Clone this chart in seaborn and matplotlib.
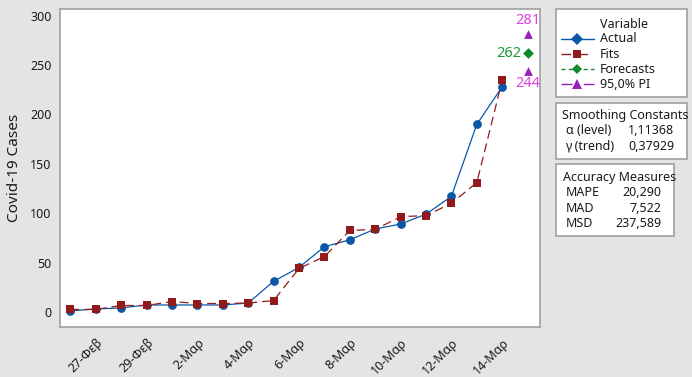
import matplotlib
matplotlib.use("Agg")
import matplotlib.pyplot as plt
from matplotlib.lines import Line2D
from matplotlib.patches import Rectangle
import numpy as np
import pandas as pd
import seaborn as sns

# data
dates = ["26-Φεβ", "27-Φεβ", "28-Φεβ", "29-Φεβ", "1-Μαρ", "2-Μαρ", "3-Μαρ", "4-Μαρ", "5-Μαρ",
         "6-Μαρ", "7-Μαρ", "8-Μαρ", "9-Μαρ", "10-Μαρ", "11-Μαρ", "12-Μαρ", "13-Μαρ", "14-Μαρ"]
actual = [1, 3, 4, 7, 7, 7, 7, 9, 31, 45, 66, 73, 84, 89, 99, 117, 190, 228]
fits = [2.5, 2.5, 6.5, 6.5, 10.5, 8.5, 8.5, 9, 11.5, 44, 56, 82.5, 83.5, 96.5, 97.5, 110, 131, 234.5]
forecast = 262
pi_upper = 281
pi_lower = 244
legend_labels = ["Actual", "Fits", "Forecasts", "95,0% PI"]
smoothing = [("α (level)", "1,11368"), ("γ (trend)", "0,37929")]
accuracy = [("MAPE", "20,290"), ("MAD", "7,522"), ("MSD", "237,589")]

c_actual = "#0A57A8"
c_fits = "#931A1A"
c_fc = "#0E8A2C"
c_pi = "#9622B8"
c_pi_txt = "#E040E0"
c_fc_txt = "#1A9A3A"
grey = "#A0A0A0"
txt = "#1A1A1A"
FS = 9

sns.set_theme(style="white")
plt.rcParams["font.family"] = ["Noto Sans", "DejaVu Sans"]

df = pd.DataFrame({"t": np.arange(len(dates)), "actual": actual, "fits": fits})
fc_x = len(dates)

fig = plt.figure(figsize=(6.92, 3.77), dpi=100, facecolor="#E4E4E4")
ax = fig.add_axes([0.0863, 0.1334, 0.6945, 0.8419])
ax.set_facecolor("white")

sns.lineplot(data=df, x="t", y="actual", ax=ax, color=c_actual, lw=0.9,
             marker="o", markersize=6.3, markeredgewidth=0)
sns.lineplot(data=df, x="t", y="fits", ax=ax, color=c_fits, lw=0.9,
             linestyle=(0, (7, 4)), marker="s", markersize=6.3, markeredgewidth=0)
sns.scatterplot(x=[fc_x], y=[forecast], ax=ax, color=c_fc, marker="D", s=30, linewidth=0)
sns.scatterplot(x=[fc_x, fc_x], y=[pi_upper, pi_lower], ax=ax, color=c_pi, marker="^", s=40, linewidth=0)

ax.text(fc_x, pi_upper + 7, str(pi_upper), color=c_pi_txt, ha="center", va="bottom", fontsize=10.5)
ax.text(fc_x - 0.25, forecast, str(forecast), color=c_fc_txt, ha="right", va="center", fontsize=10.5)
ax.text(fc_x, pi_lower - 5, str(pi_lower), color=c_pi_txt, ha="center", va="top", fontsize=10.5)

ax.set_xlim(-0.42, 18.5)
ax.set_ylim(-15, 306.5)
ax.set_yticks(range(0, 301, 50))
ticks = list(range(1, len(dates), 2))
ax.set_xticks(ticks)
ax.set_xticklabels([dates[i] for i in ticks], rotation=45, ha="right", rotation_mode="anchor")
ax.set_xlabel("")
ax.set_ylabel("Covid-19 Cases", fontsize=11, color=txt, labelpad=6)
ax.tick_params(axis="both", direction="out", length=4, width=1, color=grey,
               labelsize=FS, labelcolor=txt, pad=2)
ax.tick_params(axis="x", pad=3)
for sp in ax.spines.values():
    sp.set_color(grey)
    sp.set_linewidth(1.2)


def px(x, y):
    return x / 692, 1 - y / 377


def frame(x0, y0, x1, y1):
    fig.patches.append(Rectangle(px(x0, y1), (x1 - x0) / 692, (y1 - y0) / 377,
                                 transform=fig.transFigure, facecolor="white",
                                 edgecolor=grey, lw=1.2))


# legend box (Minitab style, drawn by hand)
frame(555.5, 9.5, 686.5, 97)
fig.text(*px(600, 24), "Variable", fontsize=FS, va="center", ha="left", color=txt)
leg_styles = [
    dict(color=c_actual, ls="-", marker="D", ms=6.5),
    dict(color=c_fits, ls=(0, (7, 5)), marker="s", ms=6),
    dict(color=c_fc, ls=(0, (2.9, 2.4)), marker="D", ms=5.5),
    dict(color=c_pi, ls=(0, (8, 8)), marker="^", ms=6.5),
]
for i, (lab, st) in enumerate(zip(legend_labels, leg_styles)):
    yy = 38.8 + 15.2 * i
    xs, ys = zip(px(561, yy), px(577, yy), px(594, yy))
    fig.add_artist(Line2D(xs, ys, transform=fig.transFigure, lw=1, markevery=[1],
                          markeredgewidth=0, **st))
    fig.text(*px(600, yy), lab, fontsize=FS, va="center", ha="left", color=txt)


def info_box(x0, y0, x1, y1, title, rows, tx, vx, ty, dy):
    frame(x0, y0, x1, y1)
    fig.text(*px(tx, ty), title, fontsize=FS, va="center", ha="left", color=txt)
    for i, (k, v) in enumerate(rows):
        yy = ty + dy * (i + 1)
        fig.text(*px(tx + 3, yy), k, fontsize=FS, va="center", ha="left", color=txt)
        fig.text(*px(vx, yy), v, fontsize=FS, va="center", ha="right", color=txt)


info_box(555.5, 102.5, 686.5, 159, "Smoothing Constants", smoothing, 562.5, 674.5, 115.5, 15.5)
info_box(555.5, 163.5, 673.5, 236, "Accuracy Measures", accuracy, 563, 661, 177.5, 15.3)

fig.savefig("out.png", dpi=100, facecolor=fig.get_facecolor())
